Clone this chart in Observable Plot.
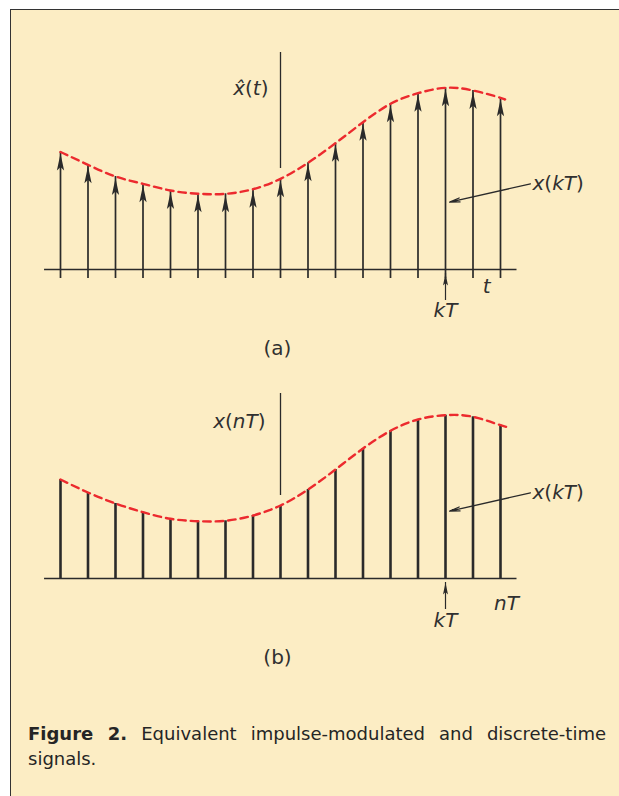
<!DOCTYPE html>
<html><head><meta charset="utf-8">
<script src="https://cdn.jsdelivr.net/npm/d3@7"></script>
<script src="https://cdn.jsdelivr.net/npm/@observablehq/plot@0.6"></script>
<style>
html,body{margin:0;padding:0;background:#fff;}
body{width:619px;height:796px;position:relative;overflow:hidden;}
#frame{position:absolute;left:10px;top:9px;width:640px;height:820px;background:#fcedc4;border:1.5px solid #333;box-sizing:border-box;}
.panel{position:absolute;left:0;}
#a{top:0px}
#b{top:309px}
#caption{position:absolute;left:28px;top:721px;width:578px;font-family:"DejaVu Sans";font-size:18px;line-height:25px;color:#252525;}
#caption .l1{text-align:justify;text-align-last:justify;white-space:nowrap;}
#caption b{font-weight:bold;}
</style></head>
<body>
<div id="frame"></div>
<div id="a" class="panel"></div>
<div id="b" class="panel"></div>
<div id="caption"><div class="l1"><b>Figure 2.</b> <span>Equivalent impulse-modulated and discrete-time</span></div><div>signals.</div></div>
<script>
// ---- data ----
const sampleIndex = [0,1,2,3,4,5,6,7,8,9,10,11,12,13,14,15,16];
const impulseA = [1.175, 1.047, 0.93, 0.857, 0.79, 0.757, 0.757, 0.803, 0.907, 1.067, 1.263, 1.473, 1.657, 1.763, 1.817, 1.79, 1.717];
const samplesB = [0.99, 0.86, 0.75, 0.663, 0.597, 0.573, 0.577, 0.63, 0.73, 0.89, 1.09, 1.30, 1.477, 1.59, 1.633, 1.617, 1.533];
const curveEndA = [16.15, 1.70];
const curveEndB = [16.33, 1.513];
const kIndex = 14;
const axisIndex = 8;
const baseSpan = [-0.58, 16.6];
const axisA = [1.01, 2.17];
const axisB = [0.83, 1.85];
const callout = [[17.09, 0.857], [14.15, 0.673]];
const kArrow = [-0.25, -0.04];
const labelsA = ["x\u0302(t)", "x(kT)", "kT", "t", "(a)"];
const labelsB = ["x(nT)", "x(kT)", "kT", "nT", "(b)"];

// ---- styles ----
const ink = "#2a2a2a";
const red = "#ec2a2e";
const font = "DejaVu Sans";

const tableA = sampleIndex.map((n, i) => ({n, v: impulseA[i]}));
const tableB = sampleIndex.map((n, i) => ({n, v: samplesB[i]}));
const curveA = [...tableA, {n: curveEndA[0], v: curveEndA[1]}];
const curveB = [...tableB, {n: curveEndB[0], v: curveEndB[1]}];

const headBig = {draw(c) {c.moveTo(0, 0); c.lineTo(3.6, 17); c.lineTo(0, 13.5); c.lineTo(-3.6, 17); c.closePath();}};
const headSmall = {draw(c) {c.moveTo(0, 0); c.lineTo(2.5, 12); c.lineTo(0, 9.5); c.lineTo(-2.5, 12); c.closePath();}};

const txt = (s, o) => Plot.text([s], {text: d => d, fontFamily: font, fontSize: 20, fill: "#303030", ...o});

function common(marks) {
  return Plot.plot({
    width: 619, height: 370,
    marginTop: 52, marginBottom: 101, marginLeft: 60, marginRight: 119,
    x: {domain: [0, 16], axis: null},
    y: {domain: [0, 2.17], axis: null},
    style: {background: "transparent", overflow: "visible"},
    marks
  });
}

function calloutMarks() {
  return [
    Plot.arrow([callout], {x1: d => d[0][0], y1: d => d[0][1], x2: d => d[1][0], y2: d => d[1][1],
      stroke: ink, strokeWidth: 1.3, headLength: 12, headAngle: 22}),
    Plot.ruleX([kIndex], {y1: kArrow[0], y2: kArrow[1], insetTop: 6, stroke: ink, strokeWidth: 1.2}),
    Plot.dot([kIndex], {x: d => d, y: kArrow[1], symbol: headSmall, fill: ink, stroke: "none"})
  ];
}

const plotA = common([
  Plot.ruleY([0], {x1: baseSpan[0], x2: baseSpan[1], stroke: ink, strokeWidth: 1.5}),
  Plot.ruleX([axisIndex], {y1: axisA[0], y2: axisA[1], stroke: ink, strokeWidth: 1.3}),
  Plot.ruleX(tableA, {x: "n", y1: 0, y2: "v", insetTop: 9, stroke: ink, strokeWidth: 1.7}),
  Plot.dot(tableA, {x: "n", y: "v", symbol: headBig, fill: ink, stroke: "none", dy: 1.5}),
  Plot.line(curveA, {x: "n", y: "v", curve: "natural", stroke: red, strokeWidth: 2.4, strokeDasharray: "7.5,5"}),
  ...calloutMarks(),
  txt(labelsA[0], {x: axisIndex, y: 1.81, textAnchor: "end", dx: -12}),
  txt(labelsA[1], {x: callout[0][0], y: callout[0][1], textAnchor: "start", dx: 2}),
  txt(labelsA[2], {x: kIndex, y: 0, dy: 41}),
  txt(labelsA[3], {x: 15.5, y: 0, dy: 17}),
  txt(labelsA[4], {x: axisIndex, y: 0, dx: -3, dy: 79})
]);

const plotB = common([
  Plot.ruleY([0], {x1: baseSpan[0], x2: baseSpan[1], stroke: ink, strokeWidth: 1.5}),
  Plot.ruleX([axisIndex], {y1: axisB[0], y2: axisB[1], stroke: ink, strokeWidth: 1.3}),
  Plot.ruleX(tableB, {x: "n", y1: 0, y2: "v", stroke: ink, strokeWidth: 2.6}),
  Plot.line(curveB, {x: "n", y: "v", curve: "natural", stroke: red, strokeWidth: 2.4, strokeDasharray: "7.5,5"}),
  ...calloutMarks(),
  txt(labelsB[0], {x: axisIndex, y: 1.57, textAnchor: "end", dx: -15}),
  txt(labelsB[1], {x: callout[0][0], y: callout[0][1], textAnchor: "start", dx: 2}),
  txt(labelsB[2], {x: kIndex, y: 0, dy: 42}),
  txt(labelsB[3], {x: 16, y: 0, dx: 6, dy: 25}),
  txt(labelsB[4], {x: axisIndex, y: 0, dx: -3, dy: 79})
]);

function italicize(svg) {
  svg.querySelectorAll("text").forEach(t => {
    const s = t.textContent;
    if (/^\([ab]\)$/.test(s)) return;
    t.textContent = "";
    for (const m of s.matchAll(/[A-Za-z\u0302]+|[^A-Za-z\u0302]+/g)) {
      const ts = document.createElementNS("http://www.w3.org/2000/svg", "tspan");
      ts.textContent = m[0];
      if (/[A-Za-z]/.test(m[0])) ts.setAttribute("font-style", "italic");
      t.appendChild(ts);
    }
  });
}
italicize(plotA); italicize(plotB);
document.getElementById("a").appendChild(plotA);
document.getElementById("b").appendChild(plotB);
</script>
</body></html>
